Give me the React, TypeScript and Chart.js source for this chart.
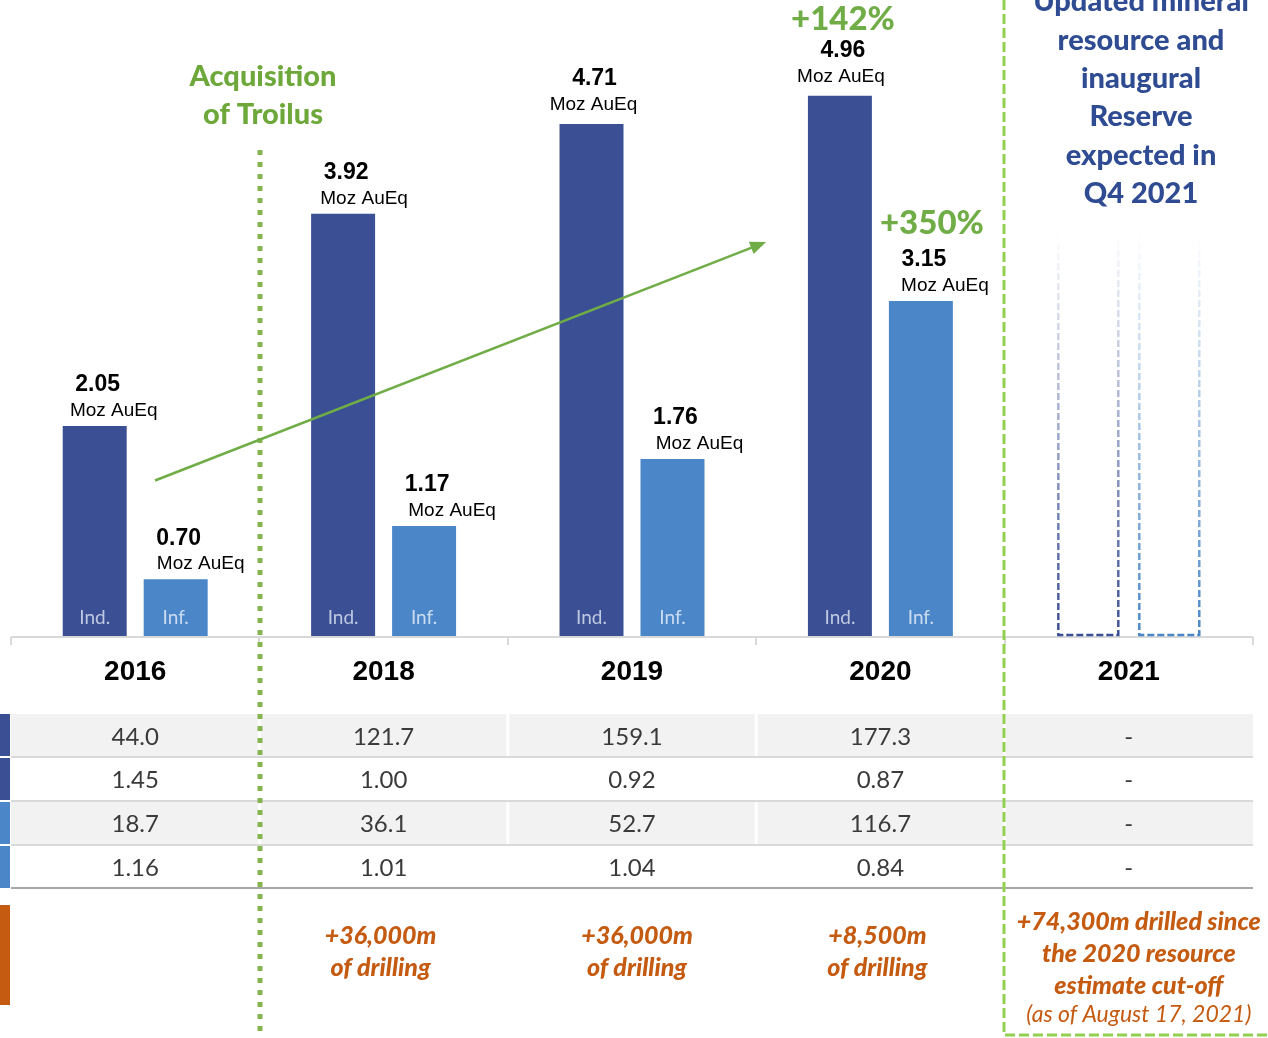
import React, { useEffect, useRef } from "react";
import { Chart, registerables } from "chart.js";

Chart.register(...registerables);

// ---------- DATA ----------
const years = ["2016", "2018", "2019", "2020", "2021"];
const indicated: (number | null)[] = [2.05, 3.92, 4.71, 4.96, null];
const inferred: (number | null)[] = [0.7, 1.17, 1.76, 3.15, null];
const outlook2021 = [3.75, 3.75];
const indTonnes = ["44.0", "121.7", "159.1", "177.3", "-"];
const indGrade = ["1.45", "1.00", "0.92", "0.87", "-"];
const infTonnes = ["18.7", "36.1", "52.7", "116.7", "-"];
const infGrade = ["1.16", "1.01", "1.04", "0.84", "-"];
const drilling: string[][] = [
  [],
  ["+36,000m", "of drilling"],
  ["+36,000m", "of drilling"],
  ["+8,500m", "of drilling"],
  ["+74,300m drilled since", "the 2020 resource", "estimate cut-off"],
];
const drillingNote = "(as of August 17, 2021)";
const growthLabels = ["+142%", "+350%"];
const acquisitionText = ["Acquisition", "of Troilus"];
const outlookText = ["Updated mineral", "resource and", "inaugural", "Reserve", "expected in", "Q4 2021"];
const unitLabel = "Moz AuEq";
const barTags = ["Ind.", "Inf."];

// ---------- STYLE ----------
const DARK = "#3A4F94";
const LIGHT = "#4A86C8";
const GREEN = "#70AD47";
const LIME = "#92D050";
const DOTGREEN = "#86B450";
const ORANGE = "#C55A11";
const NAVY = "#2F4C92";
const ARIAL = "'Liberation Sans', Arial, sans-serif";
const CAL = "Lato, 'Open Sans', sans-serif";

function txt(ctx: CanvasRenderingContext2D, s: string, x: number, y: number, font: string, color: string, align: CanvasTextAlign = "center") {
  ctx.font = font;
  ctx.fillStyle = color;
  ctx.textAlign = align;
  ctx.textBaseline = "middle";
  ctx.fillText(s, x, y);
}

const overlay = {
  id: "overlay",
  afterDraw(chart: any) {
    const ctx: CanvasRenderingContext2D = chart.ctx;
    const xs = chart.scales.x;
    const ys = chart.scales.y;
    const area = chart.chartArea;
    const base = area.bottom;
    const m0 = chart.getDatasetMeta(0);
    const m1 = chart.getDatasetMeta(1);
    const barW = m0.data[0].width;
    const offInd = m0.data[0].x - xs.getPixelForValue(0);
    const offInf = m1.data[0].x - xs.getPixelForValue(0);
    ctx.save();

    // axis line & ticks
    ctx.strokeStyle = "#D9D9D9";
    ctx.lineWidth = 2;
    ctx.beginPath();
    ctx.moveTo(area.left, base + 1);
    ctx.lineTo(area.right, base + 1);
    for (let i = 0; i <= years.length; i++) {
      const x = Math.round(xs.getPixelForValue(i - 0.5));
      ctx.moveTo(x, base + 1);
      ctx.lineTo(x, base + 9);
    }
    ctx.stroke();

    // year labels
    years.forEach((y, i) => txt(ctx, y, xs.getPixelForValue(i), base + 36, `bold 28px ${ARIAL}`, "#000"));

    // bar tags + value labels
    const mozShift = [[19, 25], [21, 28], [2, 27], [1, 24]];
    [m0, m1].forEach((meta: any, d: number) => {
      const vals = d === 0 ? indicated : inferred;
      meta.data.forEach((bar: any, i: number) => {
        const v = vals[i];
        if (v == null) return;
        const tall = d === 0 && i >= 2;
        txt(ctx, barTags[d], bar.x, base - 18, `19px ${CAL}`, d === 0 ? "rgba(215,222,240,0.85)" : "rgba(225,235,248,0.85)");
        txt(ctx, v.toFixed(2), bar.x + 3, bar.y - (tall ? 45 : 41), `bold 23px ${ARIAL}`, "#000");
        txt(ctx, unitLabel, bar.x + mozShift[i][d], bar.y - (tall ? 19 : 15), `19px ${ARIAL}`, "#000");
      });
    });

    // growth percentages
    const b20i = m0.data[3];
    const b20f = m1.data[3];
    txt(ctx, growthLabels[0], b20i.x + 3, b20i.y - 76, `900 33px ${CAL}`, GREEN);
    txt(ctx, growthLabels[1], b20f.x + 11, b20f.y - 78, `900 33px ${CAL}`, GREEN);

    // 2021 outlook dashed bars
    [offInd, offInf].forEach((off, d) => {
      const cx = xs.getPixelForValue(4) + off;
      const top = ys.getPixelForValue(outlook2021[d]);
      const l = cx - barW / 2 + 2;
      const r = cx + barW / 2 - 2;
      const col = d === 0 ? "58,79,148" : "74,134,200";
      const g = ctx.createLinearGradient(0, top, 0, base);
      g.addColorStop(0, `rgba(${col},0)`);
      g.addColorStop(1, `rgba(${col},1)`);
      ctx.strokeStyle = g;
      ctx.lineWidth = 2.5;
      ctx.setLineDash([7, 3]);
      ctx.beginPath();
      ctx.moveTo(l, top);
      ctx.lineTo(l, base - 1);
      ctx.lineTo(r, base - 1);
      ctx.lineTo(r, top);
      ctx.stroke();
    });
    ctx.setLineDash([]);

    // table
    const tL = area.left;
    const tR = area.right;
    const rowTops = [714, 757, 801, 845, 888];
    ctx.fillStyle = "#F2F2F2";
    ctx.fillRect(tL, rowTops[0], tR - tL, rowTops[1] - rowTops[0]);
    ctx.fillRect(tL, rowTops[2], tR - tL, rowTops[3] - rowTops[2]);
    ctx.fillStyle = "#FFFFFF";
    for (let i = 1; i < years.length; i++) {
      const x = xs.getPixelForValue(i - 0.5);
      ctx.fillRect(x - 1.5, rowTops[0], 3, rowTops[1] - rowTops[0]);
      ctx.fillRect(x - 1.5, rowTops[2], 3, rowTops[3] - rowTops[2]);
    }
    ctx.strokeStyle = "#D9D9D9";
    ctx.lineWidth = 2;
    ctx.beginPath();
    [757, 801, 845].forEach((y) => {
      ctx.moveTo(tL, y);
      ctx.lineTo(tR, y);
    });
    ctx.stroke();
    ctx.strokeStyle = "#A6A6A6";
    ctx.lineWidth = 2;
    ctx.beginPath();
    ctx.moveTo(tL, 888);
    ctx.lineTo(tR, 888);
    ctx.stroke();
    // left markers
    ctx.fillStyle = DARK;
    ctx.fillRect(0, 714, 10, 42);
    ctx.fillRect(0, 758, 10, 42);
    ctx.fillStyle = LIGHT;
    ctx.fillRect(0, 802, 10, 42);
    ctx.fillRect(0, 846, 10, 42);
    ctx.fillStyle = ORANGE;
    ctx.fillRect(0, 905, 10, 100);

    const rows = [indTonnes, indGrade, infTonnes, infGrade];
    const rowY = [737, 780, 824, 868];
    rows.forEach((r, ri) => r.forEach((s, i) => txt(ctx, s, xs.getPixelForValue(i), rowY[ri], `24px ${CAL}`, "#3A3A3A")));

    // drilling notes
    drilling.forEach((lines, i) => {
      const x = xs.getPixelForValue(i) + (i === 4 ? 10 : i === 2 ? 5 : -3);
      const y0 = i === 4 ? 922 : 936;
      lines.forEach((s, k) => txt(ctx, s, x, y0 + k * 32, `italic 900 25px ${CAL}`, ORANGE));
    });
    txt(ctx, drillingNote, xs.getPixelForValue(4) + 10, 1015, `italic 23px ${CAL}`, ORANGE);

    // acquisition text
    acquisitionText.forEach((s, k) => txt(ctx, s, 263, 77 + k * 38, `900 29px ${CAL}`, "#6EA83A"));
    // outlook text
    outlookText.forEach((s, k) => txt(ctx, s, 1141, 2 + k * 38.3, `900 29px ${CAL}`, NAVY));

    // dotted acquisition line
    const xd = Math.round(xs.getPixelForValue(0.5)) + 1;
    ctx.strokeStyle = DOTGREEN;
    ctx.lineWidth = 5;
    ctx.setLineDash([5, 7]);
    ctx.beginPath();
    ctx.moveTo(xd, 150);
    ctx.lineTo(xd, 1032);
    ctx.stroke();

    // dashed outlook frame
    const xg = Math.round(xs.getPixelForValue(3.5)) - 1;
    ctx.strokeStyle = LIME;
    ctx.lineWidth = 3;
    ctx.setLineDash([10, 4]);
    ctx.beginPath();
    ctx.moveTo(xg, 0);
    ctx.lineTo(xg, 1035);
    ctx.lineTo(1268, 1035);
    ctx.stroke();
    ctx.setLineDash([]);

    // growth arrow
    const ax1 = xs.getPixelForValue(0.08), ay1 = ys.getPixelForValue(1.57);
    const ax2 = xs.getPixelForValue(2.54), ay2 = ys.getPixelForValue(3.67);
    const ang = Math.atan2(ay2 - ay1, ax2 - ax1);
    ctx.strokeStyle = GREEN;
    ctx.fillStyle = GREEN;
    ctx.lineWidth = 2.5;
    ctx.beginPath();
    ctx.moveTo(ax1, ay1);
    ctx.lineTo(ax2 - 12 * Math.cos(ang), ay2 - 12 * Math.sin(ang));
    ctx.stroke();
    ctx.beginPath();
    ctx.moveTo(ax2, ay2);
    ctx.lineTo(ax2 - 16 * Math.cos(ang) + 6.5 * Math.sin(ang), ay2 - 16 * Math.sin(ang) - 6.5 * Math.cos(ang));
    ctx.lineTo(ax2 - 16 * Math.cos(ang) - 6.5 * Math.sin(ang), ay2 - 16 * Math.sin(ang) + 6.5 * Math.cos(ang));
    ctx.closePath();
    ctx.fill();

    ctx.restore();
  },
};

export default function App() {
  const ref = useRef<HTMLCanvasElement>(null);
  useEffect(() => {
    if (!ref.current) return;
    const chart = new Chart(ref.current, {
      type: "bar",
      data: {
        labels: years,
        datasets: [
          { label: "Indicated", data: indicated, backgroundColor: DARK, borderWidth: 0 },
          { label: "Inferred", data: inferred, backgroundColor: LIGHT, borderWidth: 0 },
        ],
      },
      options: {
        responsive: false,
        animation: false,
        events: [],
        layout: { padding: { left: 11, right: 15, top: 23, bottom: 402 } },
        datasets: { bar: { categoryPercentage: 0.652, barPercentage: 0.79 } },
        scales: {
          x: { display: false, offset: true },
          y: { display: false, min: 0.2, max: 5.6 },
        },
        plugins: { legend: { display: false }, tooltip: { enabled: false } },
      },
      plugins: [overlay],
    });
    return () => chart.destroy();
  }, []);
  return (
    <div style={{ position: "absolute", left: 0, top: 0, width: 1268, height: 1038, background: "#fff" }}>
      <canvas ref={ref} width={1268} height={1038} style={{ display: "block" }} />
    </div>
  );
}
